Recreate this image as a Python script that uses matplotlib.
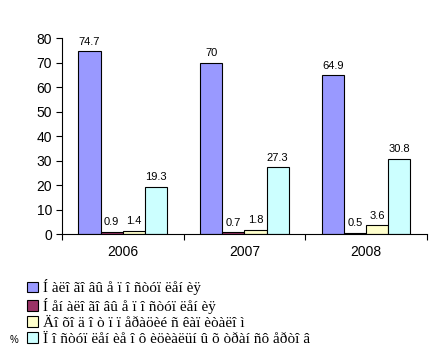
import matplotlib
matplotlib.use("Agg")
import matplotlib.pyplot as plt
import numpy as np
from matplotlib.patches import Patch

years = ["2006", "2007", "2008"]
series_names = [
    "Í àëî ãî âû å ï î ñòóï ëåí èÿ",
    "Í åí àëî ãî âû å ï î ñòóï ëåí èÿ",
    "Äî õî ä î ò ï ï åðàöèé ñ êàï èòàëî ì",
    "Ï î ñòóï ëåí èå î ô èöèàëüí û õ òðàí ñô åðòî â",
]
tax = [74.7, 70, 64.9]
nontax = [0.9, 0.7, 0.5]
capital = [1.4, 1.8, 3.6]
transfers = [19.3, 27.3, 30.8]
colors = ["#9999FF", "#993366", "#FFFFCC", "#CCFFFF"]
label_texts = [["74.7", "70", "64.9"], ["0.9", "0.7", "0.5"],
               ["1.4", "1.8", "3.6"], ["19.3", "27.3", "30.8"]]

fig = plt.figure(figsize=(4.48, 3.59), dpi=100)
ax = fig.add_axes([0.138, 0.348, 0.815, 0.546])

series = [tax, nontax, capital, transfers]
x = np.arange(len(years))
w = 0.182
for i, (vals, c) in enumerate(zip(series, colors)):
    pos = x + (i - 1.5) * w
    bars = ax.bar(pos, vals, width=w, color=c, edgecolor="black", linewidth=0.8)
    for b, t in zip(bars, label_texts[i]):
        ax.text(b.get_x() + b.get_width() / 2, b.get_height() + 1.8, t,
                ha="center", va="bottom", fontsize=8, family="Liberation Sans")

ax.set_xlim(-0.5, 2.5)
ax.set_ylim(0, 80)
ax.set_yticks(range(0, 81, 10))
ax.set_yticklabels([str(v) for v in range(0, 81, 10)], family="Liberation Sans", fontsize=10)
ax.set_xticks([-0.5, 0.5, 1.5, 2.5])
ax.set_xticklabels([])
ax.set_xticks(x, minor=True)
ax.set_xticklabels(years, minor=True, family="Liberation Sans", fontsize=10)
ax.tick_params(axis="x", which="minor", length=0, pad=8)
ax.tick_params(axis="x", which="major", length=4, direction="out")
ax.tick_params(axis="y", length=4, direction="out", pad=3)
for s in ["top", "right"]:
    ax.spines[s].set_visible(False)

handles = [Patch(facecolor=c, edgecolor="black", linewidth=0.8) for c in colors]
fig.legend(handles, series_names, loc="upper left", bbox_to_anchor=(0.06, 0.222),
           frameon=False, prop={"family": "Liberation Serif", "size": 11},
           handlelength=0.72, handleheight=0.72, handletextpad=0.35,
           labelspacing=0.15, borderpad=0, borderaxespad=0)
fig.text(0.022, 0.053, "%", fontsize=7, family="Liberation Sans", va="center")

fig.savefig("out.png", dpi=100)
